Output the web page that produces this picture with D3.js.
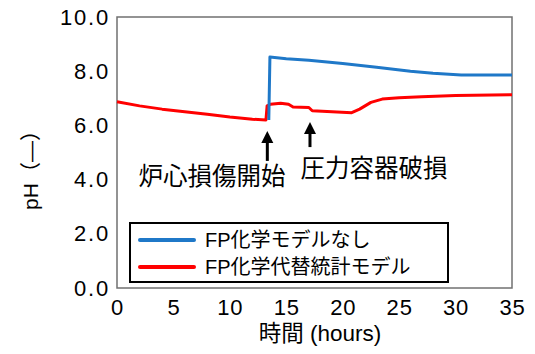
<!DOCTYPE html>
<html>
<head>
<meta charset="utf-8">
<script src="https://cdn.jsdelivr.net/npm/d3@7"></script>
<style>
  html, body { margin: 0; padding: 0; background: #fff; }
  svg { display: block; }
  text { font-family: Arial, "Liberation Sans", "Noto Sans CJK JP", sans-serif; fill: #000; }
  .cjk { font-family: "Liberation Sans", "Noto Sans CJK JP", sans-serif; }
</style>
</head>
<body>
<svg id="chart" width="535" height="354"></svg>
<script>
// Time axis (hours) and pH readings for the two simulation cases
const timeNoChem = [13.45, 13.55, 15, 17, 20, 23, 26, 28, 30.5, 35];
const phNoChem   = [6.2, 8.52, 8.46, 8.4, 8.28, 8.15, 8.0, 7.92, 7.86, 7.86];

const timeSurrogate = [0, 2, 4, 6, 8, 10, 12, 13.2, 13.3, 13.6, 14.5, 15.2, 15.6, 17.0, 17.3, 20.8, 21.5, 22.5, 23.5, 25, 27, 30, 35];
const phSurrogate   = [6.87, 6.72, 6.6, 6.5, 6.41, 6.31, 6.23, 6.2, 6.72, 6.78, 6.82, 6.78, 6.68, 6.66, 6.54, 6.47, 6.6, 6.85, 6.97, 7.02, 7.06, 7.1, 7.13];

const seriesNames = ["FP化学モデルなし", "FP化学代替統計モデル"];
const seriesColors = ["#1f78c8", "#ff0000"];

const xTicks = [0, 5, 10, 15, 20, 25, 30, 35];
const yTicks = [0, 2, 4, 6, 8, 10];

// Event markers: time, arrow tip / tail in pH units, label
const eventTimes = [13.32, 17.1];
const eventTips  = [5.79, 6.13];
const eventTails = [4.69, 5.2];
const eventLabels = ["炉心損傷開始", "圧力容器破損"];

const svg = d3.select("#chart");
const m = { left: 117, right: 512, top: 17, bottom: 288 };

const x = d3.scaleLinear().domain([0, 35]).range([m.left, m.right]);
const y = d3.scaleLinear().domain([0, 10]).range([m.bottom, m.top]);

// Plot frame
svg.append("rect")
  .attr("x", m.left).attr("y", m.top)
  .attr("width", m.right - m.left).attr("height", m.bottom - m.top)
  .attr("fill", "none").attr("stroke", "#707070").attr("stroke-width", 1.5);

// Axes (labels only, no tick marks)
const xAxis = svg.append("g").attr("transform", `translate(0,${m.bottom})`)
  .call(d3.axisBottom(x).tickValues(xTicks).tickSize(0).tickPadding(11).tickFormat(d3.format("d")));
xAxis.select(".domain").remove();
xAxis.selectAll("text").attr("font-size", 22).attr("letter-spacing", 0.8)
  .style("font-family", "Arial, 'Liberation Sans', sans-serif");

const yAxis = svg.append("g").attr("transform", `translate(${m.left},0)`)
  .call(d3.axisLeft(y).tickValues(yTicks).tickSize(0).tickPadding(7).tickFormat(d3.format(".1f")));
yAxis.select(".domain").remove();
yAxis.selectAll("text").attr("font-size", 22).attr("letter-spacing", 1.8)
  .style("font-family", "Arial, 'Liberation Sans', sans-serif");

// Axis titles
svg.append("text").attr("class", "cjk")
  .attr("x", 320).attr("y", 341).attr("text-anchor", "middle").attr("font-size", 22.5)
  .text("時間 (hours)");

svg.append("text").attr("class", "cjk")
  .attr("transform", "translate(38,165) rotate(-90)")
  .attr("text-anchor", "middle").attr("font-size", 21)
  .text("pH（\u2014）");

// Lines
const line = d3.line().x(d => x(d[0])).y(d => y(d[1]));
const redData = timeSurrogate.map((t, i) => [t, phSurrogate[i]]);
const blueData = timeNoChem.map((t, i) => [t, phNoChem[i]]);

svg.append("path").datum(redData).attr("d", line)
  .attr("fill", "none").attr("stroke", seriesColors[1]).attr("stroke-width", 3)
  .attr("stroke-linejoin", "round");
svg.append("path").datum(blueData).attr("d", line)
  .attr("fill", "none").attr("stroke", seriesColors[0]).attr("stroke-width", 3)
  .attr("stroke-linejoin", "round");

// Event arrows: shaft plus filled triangular head
eventTimes.forEach((t, i) => {
  const ax = x(t), tip = y(eventTips[i]), tail = y(eventTails[i]);
  const headLen = 12, headHalf = 6;
  svg.append("line")
    .attr("x1", ax).attr("x2", ax)
    .attr("y1", tail).attr("y2", tip + headLen - 1)
    .attr("stroke", "#000").attr("stroke-width", 3);
  svg.append("path")
    .attr("d", `M${ax},${tip} L${ax + headHalf},${tip + headLen} L${ax - headHalf},${tip + headLen} Z`)
    .attr("fill", "#000");
});

svg.append("text").attr("class", "cjk")
  .attr("x", 212).attr("y", 185).attr("text-anchor", "middle").attr("font-size", 24.5)
  .text(eventLabels[0]);
svg.append("text").attr("class", "cjk")
  .attr("x", 374).attr("y", 177).attr("text-anchor", "middle").attr("font-size", 24.5)
  .text(eventLabels[1]);

// Legend
const lg = svg.append("g");
lg.append("rect").attr("x", 130).attr("y", 223).attr("width", 318).attr("height", 59)
  .attr("fill", "#fff").attr("stroke", "#000").attr("stroke-width", 2);
seriesNames.forEach((name, i) => {
  const yy = 240 + i * 27;
  lg.append("line").attr("x1", 140).attr("x2", 194).attr("y1", yy).attr("y2", yy)
    .attr("stroke", seriesColors[i]).attr("stroke-width", 4).attr("stroke-linecap", "round");
  lg.append("text").attr("class", "cjk")
    .attr("x", 205).attr("y", yy + 7).attr("font-size", 20)
    .text(name);
});
</script>
</body>
</html>
